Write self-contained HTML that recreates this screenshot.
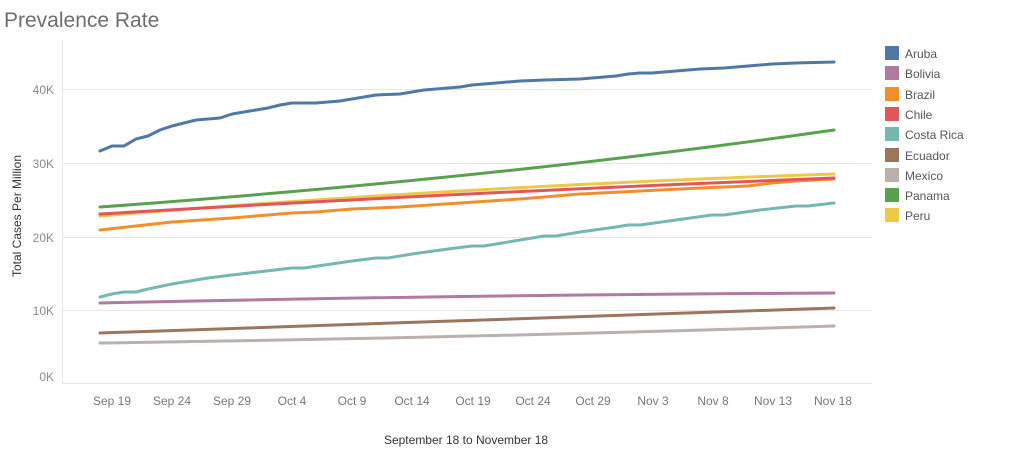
<!DOCTYPE html>
<html><head><meta charset="utf-8"><style>
body{margin:0;background:#fff;width:1024px;height:457px;overflow:hidden;font-family:"Liberation Sans",sans-serif}
</style></head><body>
<svg width="1024" height="457" xmlns="http://www.w3.org/2000/svg" font-family="Liberation Sans, sans-serif">
<text x="4" y="27" font-size="21" fill="#6e6e6e">Prevalence Rate</text>
<g stroke="#e6e6e6" stroke-width="1">
<line x1="62" x2="872" y1="89.5" y2="89.5"/><line x1="62" x2="872" y1="163.5" y2="163.5"/>
<line x1="62" x2="872" y1="237.5" y2="237.5"/><line x1="62" x2="872" y1="310.5" y2="310.5"/>
<line x1="62" x2="872" y1="383.5" y2="383.5"/><line x1="62.5" x2="62.5" y1="40" y2="383"/>
</g>
<g font-size="12" fill="#8a8a8a" text-anchor="end">
<text x="54" y="94">40K</text><text x="54" y="168">30K</text><text x="54" y="242">20K</text><text x="54" y="315">10K</text><text x="54" y="381">0K</text>
</g>
<g font-size="12" fill="#777" text-anchor="middle">
<text x="112" y="405">Sep 19</text><text x="172" y="405">Sep 24</text><text x="232" y="405">Sep 29</text><text x="292" y="405">Oct 4</text><text x="352" y="405">Oct 9</text><text x="412" y="405">Oct 14</text><text x="473" y="405">Oct 19</text><text x="533" y="405">Oct 24</text><text x="593" y="405">Oct 29</text><text x="653" y="405">Nov 3</text><text x="713" y="405">Nov 8</text><text x="773" y="405">Nov 13</text><text x="833" y="405">Nov 18</text>
</g>
<text x="466" y="444" font-size="12" fill="#333" text-anchor="middle">September 18 to November 18</text>
<text transform="translate(21,216) rotate(-90)" font-size="12" fill="#333" text-anchor="middle">Total Cases Per Million</text>
<g fill="none" stroke-width="3" stroke-linejoin="round" stroke-linecap="round">
<path stroke="#bab0ac" d="M100 343 Q460 338 834 326"/>
<path stroke="#9c755f" d="M100 333 Q460 322 834 308"/>
<path stroke="#b07aa1" d="M100 303 Q460 295 834 293"/>
<path stroke="#76b7b2" d="M100 297 L112 294 L124 292 L136 292 L148 289 L172 284 L208 278 L232 275 L292 268 L304 268 L352 261 L376 258 L388 258 L412 254 L448 249 L472 246 L484 246 L520 240 L544 236 L556 236 L580 232 L616 227 L628 225 L640 225 L676 220 L712 215 L724 215 L760 210 L796 206 L808 206 L834 203"/>
<path stroke="#f28e2b" d="M100 230 L136 226 L172 222 L232 218 L292 213 L316 212 L352 209 L400 207 L460 203 L520 199 L580 194 L640 191 L700 188 L748 186 L772 183 L796 181 L834 179"/>
<path stroke="#edc948" d="M100 216 Q450 187 834 174"/>
<path stroke="#e15759" d="M100 214 Q450 193 834 178"/>
<path stroke="#59a14f" d="M100 207 Q500 178 834 130"/>
<path stroke="#4e79a7" d="M100 151 L112 146 L124 146 L136 139 L148 136 L160 130 L172 126 L184 123 L196 120 L208 119 L220 118 L232 114 L244 112 L256 110 L268 108 L280 105 L292 103 L316 103 L328 102 L340 101 L352 99 L364 97 L376 95 L400 94 L412 92 L424 90 L436 89 L448 88 L460 87 L472 85 L496 83 L520 81 L544 80 L580 79 L592 78 L604 77 L616 76 L628 74 L640 73 L652 73 L676 71 L700 69 L724 68 L748 66 L772 64 L796 63 L834 62"/>
</g>
<g font-size="12" fill="#555">
<rect x="885" y="46" width="14" height="14" fill="#4e79a7"/><text x="905" y="58">Aruba</text>
<rect x="885" y="66" width="14" height="14" fill="#b07aa1"/><text x="905" y="78">Bolivia</text>
<rect x="885" y="87" width="14" height="14" fill="#f28e2b"/><text x="905" y="99">Brazil</text>
<rect x="885" y="107" width="14" height="14" fill="#e15759"/><text x="905" y="119">Chile</text>
<rect x="885" y="127" width="14" height="14" fill="#76b7b2"/><text x="905" y="139">Costa Rica</text>
<rect x="885" y="148" width="14" height="14" fill="#9c755f"/><text x="905" y="160">Ecuador</text>
<rect x="885" y="168" width="14" height="14" fill="#bab0ac"/><text x="905" y="180">Mexico</text>
<rect x="885" y="188" width="14" height="14" fill="#59a14f"/><text x="905" y="200">Panama</text>
<rect x="885" y="208" width="14" height="14" fill="#edc948"/><text x="905" y="220">Peru</text>
</g>
</svg>
</body></html>
